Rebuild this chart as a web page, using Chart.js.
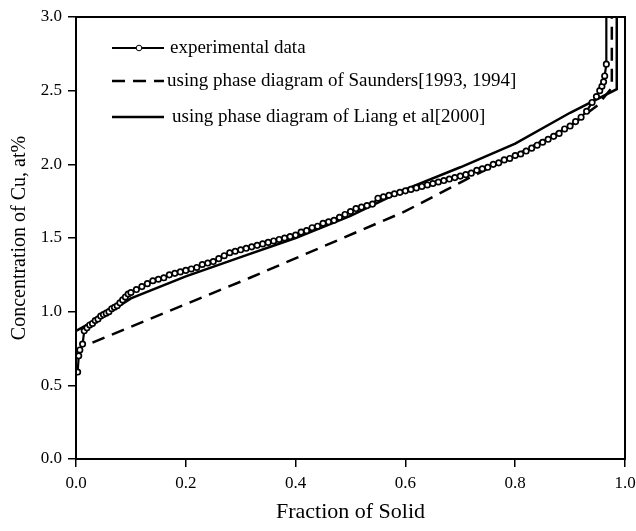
<!DOCTYPE html>
<html>
<head>
<meta charset="utf-8">
<script src="https://cdn.jsdelivr.net/npm/chart.js@4/dist/chart.umd.min.js"></script>
<style>
  html, body { margin: 0; padding: 0; background: #fff; }
  #wrap { width: 636px; height: 531px; }
</style>
</head>
<body>
<div id="wrap"><canvas id="cu-chart" width="636" height="531"></canvas></div>
<script>
// measured Cu profile (fraction solid vs at%)
const expFraction = [0.003, 0.005, 0.007, 0.012, 0.015, 0.02, 0.025, 0.03, 0.035, 0.04, 0.045, 0.05, 0.055, 0.06, 0.065, 0.07, 0.075, 0.08, 0.085, 0.09, 0.095,
  0.10, 0.11, 0.12, 0.13, 0.14, 0.15, 0.16, 0.17, 0.18, 0.19, 0.20, 0.21, 0.22, 0.23, 0.24, 0.25, 0.26, 0.27, 0.28, 0.29,
  0.30, 0.31, 0.32, 0.33, 0.34, 0.35, 0.36, 0.37, 0.38, 0.39, 0.40, 0.41, 0.42, 0.43, 0.44, 0.45, 0.46, 0.47, 0.48, 0.49,
  0.50, 0.51, 0.52, 0.53, 0.54, 0.55, 0.56, 0.57, 0.58, 0.59, 0.60, 0.61, 0.62, 0.63, 0.64, 0.65, 0.66, 0.67, 0.68, 0.69,
  0.70, 0.71, 0.72, 0.73, 0.74, 0.75, 0.76, 0.77, 0.78, 0.79, 0.80, 0.81, 0.82, 0.83, 0.84, 0.85, 0.86, 0.87, 0.88, 0.89,
  0.90, 0.91, 0.92, 0.93, 0.94, 0.948, 0.954, 0.958, 0.961, 0.963, 0.966, 0.966];
const expCu = [0.59, 0.70, 0.74, 0.78, 0.87, 0.89, 0.91, 0.92, 0.94, 0.95, 0.97, 0.98, 0.99, 1.00, 1.02, 1.03, 1.04, 1.06, 1.08, 1.10, 1.12,
  1.13, 1.15, 1.17, 1.19, 1.21, 1.22, 1.23, 1.25, 1.26, 1.27, 1.28, 1.29, 1.30, 1.32, 1.33, 1.34, 1.36, 1.38, 1.40, 1.41,
  1.42, 1.43, 1.44, 1.45, 1.46, 1.47, 1.48, 1.49, 1.50, 1.51, 1.52, 1.54, 1.55, 1.57, 1.58, 1.60, 1.61, 1.62, 1.64, 1.66,
  1.68, 1.70, 1.71, 1.72, 1.73, 1.77, 1.78, 1.79, 1.80, 1.81, 1.82, 1.83, 1.84, 1.85, 1.86, 1.87, 1.88, 1.89, 1.90, 1.91,
  1.92, 1.93, 1.94, 1.96, 1.97, 1.98, 2.00, 2.01, 2.03, 2.04, 2.06, 2.07, 2.09, 2.11, 2.13, 2.15, 2.17, 2.19, 2.21, 2.24,
  2.26, 2.29, 2.32, 2.36, 2.42, 2.46, 2.50, 2.53, 2.56, 2.60, 2.68, 3.00];

// Scheil prediction with Saunders phase diagram
const saundersFraction = [0.03, 0.317, 0.599, 0.712, 0.80, 0.90, 0.95, 0.976, 0.976];
const saundersCu = [0.79, 1.23, 1.68, 1.90, 2.06, 2.26, 2.40, 2.52, 3.00];

// Scheil prediction with Liang et al phase diagram
const liangFraction = [0, 0.02, 0.05, 0.10, 0.20, 0.30, 0.40, 0.50, 0.60, 0.70, 0.80, 0.90, 0.985, 0.985];
const liangCu = [0.87, 0.91, 0.97, 1.09, 1.24, 1.37, 1.50, 1.65, 1.83, 1.98, 2.14, 2.35, 2.51, 3.00];

const xTicks = [0, 0.2, 0.4, 0.6, 0.8, 1.0];
const yTicks = [0, 0.5, 1.0, 1.5, 2.0, 2.5, 3.0];

const toPoints = (xs, ys) => xs.map((x, i) => ({ x, y: ys[i] }));

Chart.defaults.font.family = "'Liberation Serif', 'Times New Roman', serif";
Chart.defaults.color = '#000';

// box around the plot area
const framePlugin = {
  id: 'frame',
  afterDatasetsDraw(chart) {
    const { ctx, chartArea: a } = chart;
    ctx.save();
    ctx.strokeStyle = '#000';
    ctx.lineWidth = 2;
    ctx.strokeRect(a.left, a.top, a.right - a.left, a.bottom - a.top);
    ctx.restore();
  }
};

// legend drawn inside the plot, top left
const insideLegend = {
  id: 'insideLegend',
  afterDraw(chart) {
    const ctx = chart.ctx;
    const rows = [48, 81, 117];
    const textX = [170, 167, 172];
    ctx.save();
    ctx.font = "19px 'Liberation Serif', 'Times New Roman', serif";
    ctx.textBaseline = 'middle';
    chart.data.datasets.forEach((ds, i) => {
      const y = rows[i];
      ctx.strokeStyle = '#000';
      ctx.lineWidth = ds.borderWidth;
      ctx.setLineDash(ds.borderDash || []);
      ctx.beginPath();
      ctx.moveTo(112, y);
      ctx.lineTo(164, y);
      ctx.stroke();
      ctx.setLineDash([]);
      if (i === 0) {
        ctx.beginPath();
        ctx.arc(139, y, 2.8, 0, Math.PI * 2);
        ctx.fillStyle = '#fff';
        ctx.fill();
        ctx.lineWidth = 1;
        ctx.stroke();
      }
      ctx.fillStyle = '#000';
      ctx.fillText(ds.label, textX[i], y);
    });
    ctx.restore();
  }
};

new Chart(document.getElementById('cu-chart'), {
  type: 'scatter',
  data: {
    datasets: [
      {
        label: 'experimental data',
        data: toPoints(expFraction, expCu),
        showLine: true,
        borderColor: '#000',
        borderWidth: 2.2,
        pointRadius: ctx => (ctx.dataIndex === expCu.length - 1 ? 0 : 2.7),
        pointBackgroundColor: '#fff',
        pointBorderColor: '#000',
        pointBorderWidth: 1.7
      },
      {
        label: 'using phase diagram of Saunders[1993, 1994]',
        data: toPoints(saundersFraction, saundersCu),
        showLine: true,
        borderColor: '#000',
        borderWidth: 2.5,
        borderDash: [13, 8],
        pointRadius: 0
      },
      {
        label: 'using phase diagram of Liang et al[2000]',
        data: toPoints(liangFraction, liangCu),
        showLine: true,
        borderColor: '#000',
        borderWidth: 2.5,
        pointRadius: 0
      }
    ]
  },
  options: {
    responsive: false,
    animation: false,
    layout: { padding: { top: 17, right: 11, left: 0, bottom: 0 } },
    plugins: { legend: { display: false }, tooltip: { enabled: false } },
    scales: {
      x: {
        type: 'linear',
        min: 0,
        max: 1,
        afterBuildTicks: scale => { scale.ticks = xTicks.map(value => ({ value })); },
        afterFit: scale => {
          scale.height = 72;
          // let the layout padding alone set the plot edges
          scale.paddingLeft = 0;
          scale.paddingRight = 0;
        },
        ticks: { callback: v => v.toFixed(1), font: { size: 17 }, padding: 6, maxRotation: 0 },
        grid: { drawOnChartArea: false, tickLength: 8, color: '#000', lineWidth: 1.5 },
        border: { color: '#000', width: 2 },
        title: { display: true, text: 'Fraction of Solid', font: { size: 22 }, padding: { top: 0, bottom: 6 } }
      },
      y: {
        min: 0,
        max: 3,
        afterBuildTicks: scale => { scale.ticks = yTicks.map(value => ({ value })); },
        afterFit: scale => {
          scale.width = 76;
          scale.paddingTop = 0;
          scale.paddingBottom = 0;
        },
        ticks: { callback: v => v.toFixed(1), font: { size: 17 }, padding: 6 },
        grid: { drawOnChartArea: false, tickLength: 8, color: '#000', lineWidth: 1.5 },
        border: { color: '#000', width: 2 },
        title: { display: true, text: 'Concentration of Cu, at%', font: { size: 20 }, padding: { top: 8, bottom: 0 } }
      }
    }
  },
  plugins: [framePlugin, insideLegend]
});
</script>
</body>
</html>
